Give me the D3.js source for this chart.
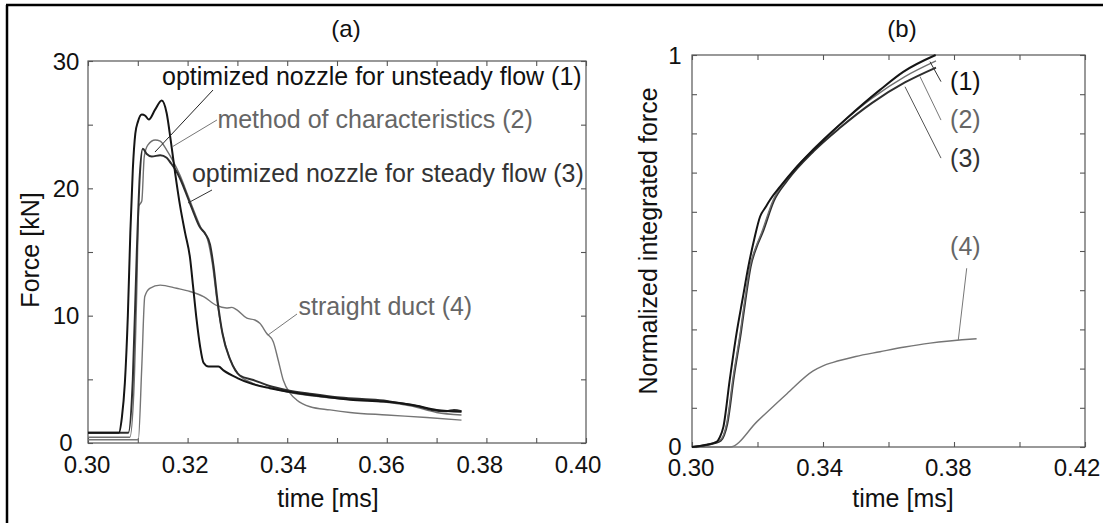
<!DOCTYPE html>
<html>
<head>
<meta charset="utf-8">
<script src="https://cdn.jsdelivr.net/npm/d3@7"></script>
<style>
  html, body { margin: 0; padding: 0; background: #fff; }
  svg { display: block; font-family: "Liberation Sans", Arial, sans-serif; }
</style>
</head>
<body>
<svg id="chart" width="1103" height="523"></svg>
<script>
// ---------- DATA ----------
// Panel (a): force [kN] vs time [ms]
const seriesA1 = [ // optimized nozzle for unsteady flow (1)
  [0.3000,0.81],[0.3062,0.81],[0.3068,2.0],[0.3074,4.7],[0.3080,10.0],[0.3085,16.5],[0.3090,21.5],
  [0.3095,24.3],[0.3100,25.2],[0.3108,25.8],[0.3115,25.7],[0.3122,25.4],[0.3135,26.2],[0.3148,26.9],
  [0.3158,25.9],[0.3166,23.8],[0.3175,21.2],[0.3185,18.6],[0.3195,16.5],[0.3205,14.5],[0.3211,12.3],
  [0.3218,9.7],[0.3225,7.6],[0.3232,6.3],[0.3242,6.0],[0.3262,6.0],[0.3272,5.7],[0.3300,5.1],
  [0.3325,4.7],[0.3365,4.3],[0.3406,4.0],[0.3472,3.65],[0.3526,3.4],[0.3594,3.25],[0.3650,3.0],
  [0.3700,2.6],[0.3750,2.45]
];
const seriesA2 = [ // method of characteristics (2)
  [0.3000,0.45],[0.3084,0.45],[0.3092,4.0],[0.3098,12.0],[0.3102,18.6],[0.3108,19.0],[0.3113,22.5],
  [0.3120,23.4],[0.3135,23.8],[0.3145,23.7],[0.3158,23.0],[0.3170,22.2],[0.3185,21.0],[0.3200,19.5],
  [0.3215,18.0],[0.3228,16.8],[0.3240,16.0],[0.3250,14.0],[0.3258,11.5],[0.3268,9.0],[0.3283,6.8],
  [0.3300,5.5],[0.3330,4.7],[0.3370,4.3],[0.3400,4.0],[0.3450,3.7],[0.3500,3.5],[0.3550,3.4],
  [0.3600,3.2],[0.3650,2.9],[0.3700,2.4],[0.3750,2.2]
];
const seriesA3 = [ // optimized nozzle for steady flow (3)
  [0.3000,0.81],[0.3081,0.81],[0.3090,5.0],[0.3098,15.0],[0.3104,21.0],[0.3110,23.1],[0.3118,22.7],
  [0.3128,22.5],[0.3145,22.6],[0.3158,22.4],[0.3166,22.0],[0.3178,21.3],[0.3190,20.3],[0.3200,19.3],
  [0.3212,18.1],[0.3224,17.0],[0.3236,16.4],[0.3245,15.6],[0.3252,13.9],[0.3260,11.2],[0.3270,8.6],
  [0.3286,6.5],[0.3305,5.3],[0.3332,4.95],[0.3363,4.5],[0.3400,4.15],[0.3450,3.85],[0.3500,3.6],
  [0.3550,3.45],[0.3600,3.3],[0.3630,3.1],[0.3660,2.9],[0.3690,2.6],[0.3720,2.5],[0.3735,2.6],[0.3750,2.5]
];
const seriesA4 = [ // straight duct (4)
  [0.3000,0.25],[0.3101,0.25],[0.3108,6.0],[0.3114,11.5],[0.3124,12.15],[0.3145,12.4],[0.3178,12.15],
  [0.3205,11.9],[0.3232,11.5],[0.3258,10.8],[0.3278,10.6],[0.3289,10.65],[0.3299,10.45],[0.3319,9.8],
  [0.3335,9.66],[0.3345,9.4],[0.3359,8.6],[0.3372,7.96],[0.3382,6.5],[0.3392,4.95],[0.3406,3.9],
  [0.3419,3.38],[0.3446,2.85],[0.3486,2.6],[0.3526,2.4],[0.3600,2.2],[0.3680,2.0],[0.3750,1.8]
];
// Panel (b): normalized integrated force vs time [ms]
const seriesB1 = [
  [0.3000,0],[0.3040,0.005],[0.3075,0.013],[0.3085,0.025],[0.3096,0.052],[0.3115,0.17],[0.3136,0.29],
  [0.3155,0.38],[0.3172,0.46],[0.3190,0.53],[0.3208,0.588],[0.3225,0.612],[0.3238,0.63],[0.3269,0.664],
  [0.3320,0.715],[0.3401,0.783],[0.3472,0.838],[0.3574,0.911],[0.3645,0.957],[0.3744,1.0]
];
const seriesB2 = [
  [0.3000,0],[0.3045,0.006],[0.3086,0.018],[0.3096,0.03],[0.3106,0.06],[0.3126,0.18],[0.3147,0.29],
  [0.3162,0.38],[0.3177,0.46],[0.3195,0.51],[0.3213,0.548],[0.3248,0.63],[0.3289,0.683],[0.3370,0.760],
  [0.3450,0.822],[0.3550,0.890],[0.3650,0.945],[0.3745,0.985]
];
const seriesB3 = [
  [0.3000,0],[0.3045,0.005],[0.3088,0.016],[0.3098,0.03],[0.3108,0.06],[0.3128,0.18],[0.3149,0.29],
  [0.3164,0.38],[0.3179,0.46],[0.3197,0.51],[0.3215,0.546],[0.3250,0.628],[0.3291,0.68],[0.3372,0.755],
  [0.3450,0.813],[0.3550,0.878],[0.3650,0.930],[0.3745,0.968]
];
const seriesB4 = [
  [0.3000,0],[0.3116,0],[0.3200,0.066],[0.3290,0.136],[0.3370,0.194],[0.3400,0.207],[0.3431,0.216],
  [0.3500,0.231],[0.3574,0.243],[0.3650,0.255],[0.3727,0.265],[0.3869,0.276]
];
const labelsA = ["optimized nozzle for unsteady flow (1)", "method of characteristics (2)",
                 "optimized nozzle for steady flow (3)", "straight duct (4)"];
const labelsB = ["(1)", "(2)", "(3)", "(4)"];
const xTicksA = [0.30,0.31,0.32,0.33,0.34,0.35,0.36,0.37,0.38,0.39,0.40];
const xTickLabelsA = [0.30,0.32,0.34,0.36,0.38,0.40];
const yTicksA = [0,5,10,15,20,25,30];
const yTickLabelsA = [0,10,20,30];
const xTicksB = [0.30,0.32,0.34,0.36,0.38,0.40,0.42];
const xTickLabelsB = [0.30,0.34,0.38,0.42];
const yTicksB = [0,0.1,0.2,0.3,0.4,0.5,0.6,0.7,0.8,0.9,1];
const yTickLabelsB = [0,1];

// ---------- LAYOUT ----------
const svg = d3.select("#chart");
const C1 = "#151515", C2 = "#707070", C3 = "#2e2e2e", C4 = "#757575";
const TXT1 = "#111", TXT2 = "#666", TXT3 = "#333", TXT4 = "#666";

// outer border (left + top)
svg.append("line").attr("x1",7).attr("y1",5).attr("x2",7).attr("y2",523).attr("stroke","#000").attr("stroke-width",2.5);
svg.append("line").attr("x1",6).attr("y1",5).attr("x2",1103).attr("y2",5).attr("stroke","#000").attr("stroke-width",2.5);

function panel(o) {
  const x = d3.scaleLinear().domain(o.xDomain).range([o.left, o.right]);
  const y = d3.scaleLinear().domain(o.yDomain).range([o.bottom, o.top]);
  const g = svg.append("g");
  g.append("rect").attr("x",o.left).attr("y",o.top).attr("width",o.right-o.left).attr("height",o.bottom-o.top)
    .attr("fill","none").attr("stroke","#555").attr("stroke-width",1.2);
  const tl = 5;
  g.append("g").attr("transform",`translate(0,${o.bottom})`)
    .call(d3.axisTop(x).tickValues(o.xTicks).tickSize(tl).tickFormat(""));
  g.append("g").attr("transform",`translate(0,${o.top})`)
    .call(d3.axisBottom(x).tickValues(o.xTicks).tickSize(tl).tickFormat(""));
  g.append("g").attr("transform",`translate(${o.left},0)`)
    .call(d3.axisRight(y).tickValues(o.yTicks).tickSize(tl).tickFormat(""));
  g.append("g").attr("transform",`translate(${o.right},0)`)
    .call(d3.axisLeft(y).tickValues(o.yTicks).tickSize(tl).tickFormat(""));
  g.selectAll(".domain").remove();
  g.selectAll(".tick line").attr("stroke","#555").attr("stroke-width",1.1);
  const xr = o.xDomain[1]-o.xDomain[0];
  g.selectAll(".xl").data(o.xLabels).enter().append("text")
    .attr("x", d => x(d) - 1 - 7*(d-o.xDomain[0])/xr).attr("y", o.bottom + o.xLabelDy)
    .attr("text-anchor","middle").attr("font-size",24).attr("fill","#111")
    .text(d => d3.format(".2f")(d));
  g.selectAll(".yl").data(o.yLabels).enter().append("text")
    .attr("x", o.yLabelX).attr("y", d => y(d) - (d === o.yDomain[0] ? 1 : 0)).attr("dy","0.36em")
    .attr("text-anchor","middle").attr("font-size",24).attr("fill","#111")
    .text(d => String(d));
  g.append("text").attr("x",o.titleX).attr("y",37).attr("text-anchor","middle")
    .attr("font-size",24).attr("fill","#111").text(o.title);
  g.append("text").attr("x",o.xTitleX).attr("y",507).attr("text-anchor","middle")
    .attr("font-size",25).attr("fill","#111").text("time [ms]");
  g.append("text").attr("transform",`translate(${o.yTitleX},${o.yTitleY}) rotate(-90)`)
    .attr("text-anchor","middle").attr("font-size",25).attr("fill","#111").text(o.yTitle);
  return {x, y, g};
}

const A = panel({
  left: 88, right: 586, top: 61, bottom: 443,
  xDomain: [0.30, 0.40], yDomain: [0, 30],
  xTicks: xTicksA, yTicks: yTicksA, xLabels: xTickLabelsA, yLabels: yTickLabelsA,
  xLabelDy: 30, yLabelX: 66, title: "(a)", titleX: 346, xTitleX: 328,
  yTitle: "Force [kN]", yTitleX: 39, yTitleY: 250
});
const B = panel({
  left: 692, right: 1085, top: 55, bottom: 447,
  xDomain: [0.30, 0.42], yDomain: [0, 1],
  xTicks: xTicksB, yTicks: yTicksB, xLabels: xTickLabelsB, yLabels: yTickLabelsB,
  xLabelDy: 29, yLabelX: 675, title: "(b)", titleX: 902, xTitleX: 903,
  yTitle: "Normalized integrated force", yTitleX: 657, yTitleY: 241
});

function drawLine(P, data, color, width) {
  const line = d3.line().x(d => P.x(d[0])).y(d => P.y(d[1])).curve(d3.curveMonotoneX);
  P.g.append("path").datum(data).attr("d", line).attr("fill","none")
    .attr("stroke", color).attr("stroke-width", width).attr("stroke-linejoin","round");
}
function leader(P, t1, v1, t2, v2, color) {
  P.g.append("line").attr("x1",P.x(t1)).attr("y1",P.y(v1)).attr("x2",P.x(t2)).attr("y2",P.y(v2))
    .attr("stroke",color).attr("stroke-width",1);
}
function label(P, t, v, txt, color) {
  P.g.append("text").attr("x",P.x(t)).attr("y",P.y(v)).attr("font-size",25).attr("fill",color).text(txt);
}

// Panel (a)
drawLine(A, seriesA4, C4, 1.4);
drawLine(A, seriesA2, C2, 1.4);
drawLine(A, seriesA3, C3, 2.0);
drawLine(A, seriesA1, C1, 2.0);
leader(A, 0.32510, 27.72, 0.31345, 22.85, "#222");
leader(A, 0.32590, 25.37, 0.31687, 23.25, "#777");
leader(A, 0.32490, 19.87, 0.32008, 18.85, "#333");
leader(A, 0.34197, 10.13, 0.33614, 8.48, "#777");
label(A, 0.31486, 28.1, labelsA[0], TXT1);
label(A, 0.32598, 24.7, labelsA[1], TXT2);
label(A, 0.32088, 20.5, labelsA[2], TXT3);
label(A, 0.34227, 10.05, labelsA[3], TXT4);

// Panel (b)
drawLine(B, seriesB4, C4, 1.4);
drawLine(B, seriesB3, C3, 2.0);
drawLine(B, seriesB2, C2, 1.4);
drawLine(B, seriesB1, C1, 2.0);
leader(B, 0.37603, 0.932, 0.37267, 0.983, "#333");
leader(B, 0.37603, 0.834, 0.36962, 0.945, "#777");
leader(B, 0.37603, 0.737, 0.36504, 0.919, "#555");
leader(B, 0.38388, 0.456, 0.38131, 0.273, "#777");
label(B, 0.37880, 0.911, labelsB[0], TXT1);
label(B, 0.37880, 0.814, labelsB[1], TXT2);
label(B, 0.37880, 0.714, labelsB[2], TXT3);
label(B, 0.37880, 0.490, labelsB[3], TXT4);
</script>
</body>
</html>
